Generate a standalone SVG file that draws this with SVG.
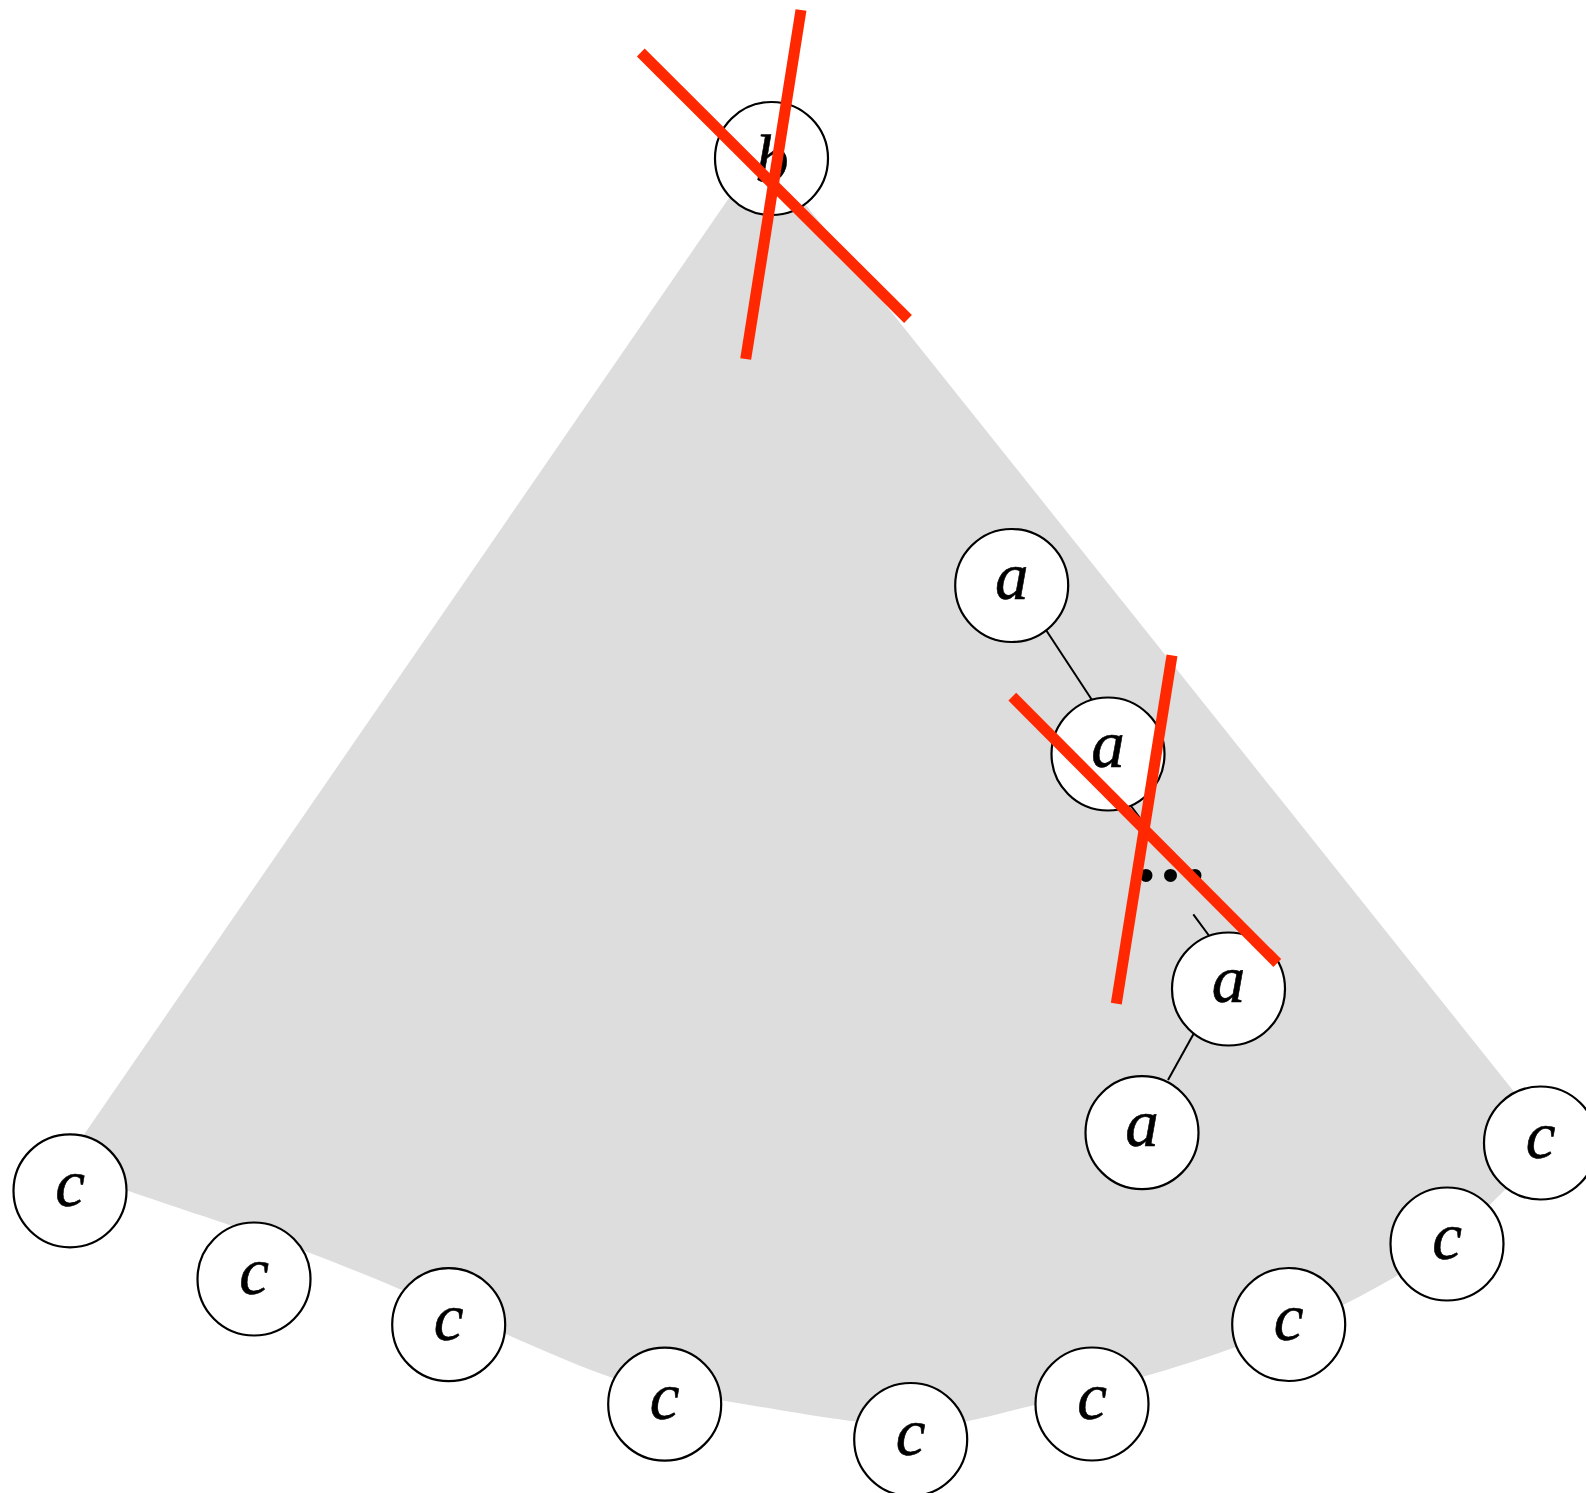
<svg xmlns="http://www.w3.org/2000/svg" width="1586" height="1493" viewBox="0 0 1586 1493">
<style>
.node circle{fill:#fff;stroke:#000;stroke-width:2.2}
.node text{font-family:"Liberation Serif","Times New Roman",serif;font-style:italic;font-size:67px;text-anchor:middle;fill:#000;stroke:#000;stroke-width:0.6}
.edge{stroke:#000;stroke-width:2;fill:none}
.cross{stroke:#ff2800;stroke-width:11;fill:none}
</style>
<rect width="1586" height="1493" fill="#fff"/>
<path id="region" fill="#dddddd" d="M762,150 L61,1168 C77.5,1173.6 119.05,1187.75 160,1201.7 C200.95,1215.65 258.37,1233.65 306.7,1251.7 C355.03,1269.75 398.95,1288.95 450,1310 C501.05,1331.05 568,1363 613,1378 C658,1393 670.5,1392 720,1400 C769.5,1408 857.5,1425.2 910,1426 C962.5,1426.8 996.2,1413.2 1035,1405 C1073.8,1396.8 1110,1386.2 1143,1376.7 C1176,1367.2 1199.7,1359.95 1233,1348 C1266.3,1336.05 1307.3,1322.7 1343,1305 C1378.7,1287.3 1420.3,1262.9 1447,1244 C1473.7,1225.1 1485,1208.5 1503,1191.7 C1521,1174.9 1546.3,1151.1 1555,1143 Z"/>
<g id="connectors">
<line class="edge" x1="1046" y1="630" x2="1092" y2="700"/>
<line class="edge" x1="1128" y1="802" x2="1140" y2="818"/>
<line class="edge" x1="1193.3" y1="914.3" x2="1210" y2="937"/>
<line class="edge" x1="1193.5" y1="1034" x2="1168" y2="1080"/>
</g>
<g id="a1" class="node"><circle cx="1011.7" cy="585.5" r="56.5"/><text x="1011.7" y="598.5">a</text></g>
<g id="a2" class="node"><circle cx="1108" cy="754" r="56.5"/><text x="1108" y="767">a</text></g>
<g id="ellipsis"><text x="1136" y="881" font-family="Liberation Serif,serif" font-size="80" font-weight="bold" letter-spacing="4.5">...</text></g>
<g id="a3" class="node"><circle cx="1228.5" cy="989" r="56.5"/><text x="1228.5" y="1002">a</text></g>
<g id="a4" class="node"><circle cx="1142" cy="1132.7" r="56.5"/><text x="1142" y="1145.7">a</text></g>
<g id="c1" class="node"><circle cx="70" cy="1190.8" r="56.5"/><text x="70" y="1206">c</text></g>
<g id="c2" class="node"><circle cx="254" cy="1279" r="56.5"/><text x="254" y="1294">c</text></g>
<g id="c3" class="node"><circle cx="448.7" cy="1324.7" r="56.5"/><text x="448.7" y="1340">c</text></g>
<g id="c4" class="node"><circle cx="664.7" cy="1404.2" r="56.5"/><text x="664.7" y="1419">c</text></g>
<g id="c5" class="node"><circle cx="910.7" cy="1439.5" r="56.5"/><text x="910.7" y="1455">c</text></g>
<g id="c6" class="node"><circle cx="1092" cy="1404" r="56.5"/><text x="1092" y="1419">c</text></g>
<g id="c7" class="node"><circle cx="1288.7" cy="1324.5" r="56.5"/><text x="1288.7" y="1340">c</text></g>
<g id="c8" class="node"><circle cx="1447" cy="1244" r="56.5"/><text x="1447" y="1259">c</text></g>
<g id="c9" class="node"><circle cx="1540.5" cy="1143" r="56.5"/><text x="1540.5" y="1158">c</text></g>
<g id="b" class="node"><circle cx="771.5" cy="158.5" r="56.5"/><text x="772" y="182" font-size="76">b</text></g>
<g id="crosses">
<line class="cross" x1="640.8" y1="52.5" x2="908" y2="319"/>
<line class="cross" x1="801" y1="10" x2="745.7" y2="359"/>
<line class="cross" x1="1012.3" y1="696.7" x2="1277.3" y2="963"/>
<line class="cross" x1="1172" y1="655.3" x2="1116.3" y2="1003.7"/>
</g>
</svg>
